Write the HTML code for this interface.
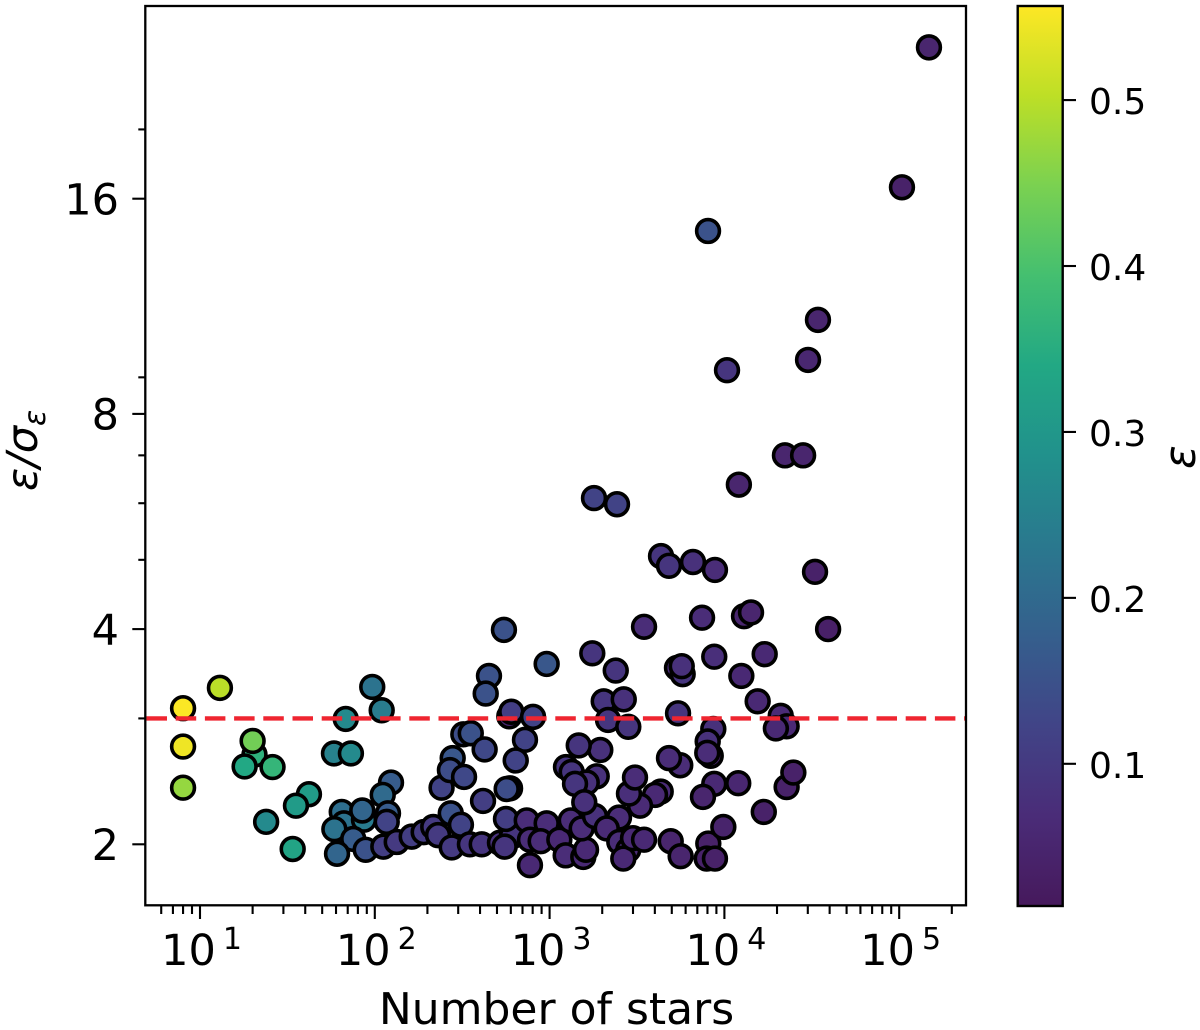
<!DOCTYPE html>
<html lang="en">
<head>
<meta charset="utf-8">
<title>Signal-to-noise versus number of stars</title>
<style>
html,body{margin:0;padding:0;background:#fff;width:1200px;height:1030px;overflow:hidden}
svg{display:block}
text{font-family:"DejaVu Sans","Liberation Sans",sans-serif;fill:#000}
</style>
</head>
<body>
<svg id="chart" xmlns="http://www.w3.org/2000/svg" width="1200" height="1030" viewBox="0 0 1200 1030">
<defs>
<linearGradient id="viridis-gradient" x1="0" y1="1" x2="0" y2="0"></linearGradient>
</defs>
<g id="points"></g>
<line id="threshold" stroke="#ef2530" stroke-width="4.4" stroke-dasharray="20.5 8.7"></line>
<rect x="145.3" y="6" width="820.7" height="899.3" fill="none" stroke="#000" stroke-width="2.3"></rect>
<g id="x-axis"></g>
<g id="y-axis"></g>
<text x="556.5" y="1024" font-size="44" text-anchor="middle">Number of stars</text>
<text transform="translate(37,491) rotate(-90)" font-size="43" font-style="italic">ε/σ<tspan dy="8" font-size="30">ε</tspan></text>
<rect id="colorbar-fill" x="1017.7" y="6" width="45" height="900" fill="url(#viridis-gradient)" stroke="#000" stroke-width="2.4"></rect>
<g id="colorbar-axis"></g>
<text transform="translate(1195,469) rotate(-90)" font-size="44" font-style="italic">ε</text>
</svg>
<script>
const stars = [
13,8,8,8,20.5,20,18,26,68.2,96.7,
109.5,58.4,73,42,35.4,23.9,33.9,123.8,111,119,
117,64.7,66.6,86.7,84.8,58.7,75.3,60.8,88.7,111.9,
133.5,162.6,190.4,216,230,241,450,431,962,1755,
2390,5355,5770,5700,8750,12500,17000,15500,2040,2655,
588,604,804,2160,2820,5430,21000,8640,22700,19700,
8025,8350,7980,321,354,723,425,640,279,269,
324,594,568,416,272,311,275.5,350,409,520,
607,553,563,740,962,772,889,772,1137,1236,
1559,1616,1321,1526,1818,2495,2122,2505,2820,2640,
3000,3470,4930,5620,8090,7920,8830,9860,16800,22700,
24800,12000,8750,7540,4320,4010,3290,2845,3080,5590,
4820,1950,1468,1241,1338,1860,1631,1398,1579,148000,
103700,8060,34300,30100,10350,22200,28200,12100,1795,2430,
4340,4820,6610,8830,33000,7450,12950,14200,548,3470,
39200];
const snr = [
3.31,3.1,2.74,2.40,2.67,2.79,2.57,2.565,2.995,3.32,
3.08,2.68,2.68,2.35,2.265,2.15,1.97,2.44,2.345,2.21,
2.15,2.22,2.14,2.165,2.23,2.1,2.035,1.94,1.965,1.985,
2.015,2.05,2.08,2.115,2.06,2.4,3.44,3.25,3.575,3.7,
3.5,3.53,3.46,3.55,3.66,3.44,3.69,3.17,3.17,3.19,
3.02,3.065,3.015,2.985,2.92,3.05,3.025,2.9,2.925,2.905,
2.785,2.66,2.685,2.85,2.86,2.8,2.715,2.62,2.64,2.54,
2.485,2.395,2.39,2.3,2.21,2.13,1.98,2.0,2.0,2.01,
2.05,1.985,2.17,2.16,2.14,2.03,2.02,1.87,2.03,1.93,
1.92,1.965,2.16,2.105,2.19,2.18,2.105,2.015,1.965,1.91,
2.04,2.03,2.02,1.925,2.005,1.91,1.91,2.115,2.22,2.405,
2.52,2.435,2.43,2.33,2.37,2.345,2.265,2.355,2.48,2.58,
2.64,2.71,2.75,2.565,2.525,2.49,2.44,2.43,2.29,26.05,
16.6,14.42,10.83,9.52,9.21,7,7,6.37,6.1,5.98,
5.06,4.905,4.965,4.84,4.81,4.15,4.17,4.22,3.99,4.03,
4.0];
const eps = [
.50,.555,.545,.47,.36,.44,.34,.37,.27,.22,
.24,.25,.27,.31,.31,.27,.33,.17,.2,.17,
.12,.21,.22,.24,.19,.22,.17,.19,.15,.11,
.1,.11,.105,.1,.1,.12,.15,.15,.16,.09,
.09,.07,.09,.08,.075,.06,.06,.06,.09,.08,
.05,.11,.12,.09,.09,.09,.065,.08,.06,.06,
.08,.05,.07,.14,.15,.12,.13,.12,.16,.14,
.13,.05,.14,.11,.15,.12,.1,.09,.09,.08,
.09,.09,.11,.07,.07,.07,.07,.06,.06,.07,
.06,.06,.07,.07,.08,.07,.065,.07,.065,.06,
.06,.06,.05,.05,.04,.04,.04,.045,.04,.04,
.04,.055,.06,.05,.065,.06,.065,.075,.07,.07,
.07,.08,.09,.09,.09,.08,.08,.09,.08,.05,
.04,.15,.05,.055,.09,.05,.05,.05,.12,.12,
.09,.09,.08,.07,.04,.07,.05,.05,.15,.07,
.035];
const thresholdValue = 3;
const xMajorExponents = [1,2,3,4,5];
const xMinorTicks = [6,7,8,9,20,30,40,50,60,70,80,90,200,300,400,500,600,700,800,900,2000,3000,4000,5000,6000,7000,8000,9000,20000,30000,40000,50000,60000,70000,80000,90000,200000];
const yMajorTicks = [2,4,8,16];
const yMinorTicks = [3,5,6,7,9,20];
const colorbarTicks = [0.1,0.2,0.3,0.4,0.5];
const colorbarRange = [0.0143,0.5567];
const viridisStops = ['#46195c','#4a2c78','#414487','#355f8d','#2a788e','#21918c','#22a884','#44bf70','#7ad151','#bddf26','#fde725'];

const NS = 'http://www.w3.org/2000/svg';
function xScale(n){ return 200 + 174.8 * (Math.log10(n) - 1); }
function yScale(s){ return 844.3 - 215.2 * (Math.log2(s) - 1); }
function cScale(e){ return 906 - 900 * (e - colorbarRange[0]) / (colorbarRange[1] - colorbarRange[0]); }
function hexRgb(h){ return [1,3,5].map(function(i){ return parseInt(h.substr(i,2),16); }); }
function viridis(e){
  var t = Math.max(0, Math.min(1, (e - colorbarRange[0]) / (colorbarRange[1] - colorbarRange[0])));
  var p = t * (viridisStops.length - 1);
  var i = Math.min(Math.floor(p), viridisStops.length - 2);
  var f = p - i;
  var a = hexRgb(viridisStops[i]), b = hexRgb(viridisStops[i + 1]);
  return 'rgb(' + a.map(function(v, k){ return Math.round(v + (b[k] - v) * f); }).join(',') + ')';
}
function make(tag, parent){
  var el = document.createElementNS(NS, tag);
  parent.appendChild(el);
  return el;
}
function tickLine(parent, x1, y1, x2, y2){
  var l = make('line', parent);
  l.setAttribute('x1', x1);
  l.setAttribute('y1', y1);
  l.setAttribute('x2', x2);
  l.setAttribute('y2', y2);
  l.setAttribute('stroke', '#000');
  l.setAttribute('stroke-width', '2.1');
  return l;
}

var grad = document.getElementById('viridis-gradient');
viridisStops.forEach(function(c, i){
  var s = make('stop', grad);
  s.setAttribute('offset', i / (viridisStops.length - 1));
  s.setAttribute('stop-color', c);
});

var pointsG = document.getElementById('points');
stars.forEach(function(n, i){
  var c = make('circle', pointsG);
  
  
  c.setAttribute('cx', xScale(n));
  c.setAttribute('cy', yScale(snr[i]));
  c.setAttribute('r', 11.4);
  c.setAttribute('fill', viridis(eps[i]));
  c.setAttribute('stroke', '#000');
  c.setAttribute('stroke-width', 3.6);
});

var th = document.getElementById('threshold');
th.setAttribute('x1', 146.5);
th.setAttribute('x2', 965);
th.setAttribute('y1', yScale(thresholdValue));
th.setAttribute('y2', yScale(thresholdValue));

var xAxis = document.getElementById('x-axis');
xMajorExponents.forEach(function(ex){
  var x = xScale(Math.pow(10, ex));
  var t = tickLine(xAxis, x, 905.3, x, 919);
  
  
  var label = make('text', xAxis);
  
  
  label.setAttribute('x', x + 1.5);
  label.setAttribute('y', 965);
  label.setAttribute('font-size', '43');
  label.setAttribute('text-anchor', 'middle');
  label.textContent = '10';
  var sup = make('tspan', label);
  sup.setAttribute('font-size', '30');
  sup.setAttribute('dy', '-16');
  sup.setAttribute('dx', '7');
  sup.textContent = String(ex);
});
xMinorTicks.forEach(function(v){
  var x = xScale(v);
  var t = tickLine(xAxis, x, 905.3, x, 914);
  
  
});

var yAxis = document.getElementById('y-axis');
yMajorTicks.forEach(function(v){
  var y = yScale(v);
  var t = tickLine(yAxis, 132.3, y, 145.3, y);
  
  
  var label = make('text', yAxis);
  
  
  label.setAttribute('x', 119);
  label.setAttribute('y', y + 15.7);
  label.setAttribute('font-size', '43');
  label.setAttribute('text-anchor', 'end');
  label.textContent = String(v);
});
yMinorTicks.forEach(function(v){
  var y = yScale(v);
  var t = tickLine(yAxis, 138.3, y, 145.3, y);
  
  
});

var cAxis = document.getElementById('colorbar-axis');
colorbarTicks.forEach(function(v){
  var y = cScale(v);
  var t = tickLine(cAxis, 1062.7, y, 1076, y);
  
  
  var label = make('text', cAxis);
  
  
  label.setAttribute('x', 1089);
  label.setAttribute('y', y + 14);
  label.setAttribute('font-size', '36');
  label.textContent = v.toFixed(1);
});
</script>
</body>
</html>
